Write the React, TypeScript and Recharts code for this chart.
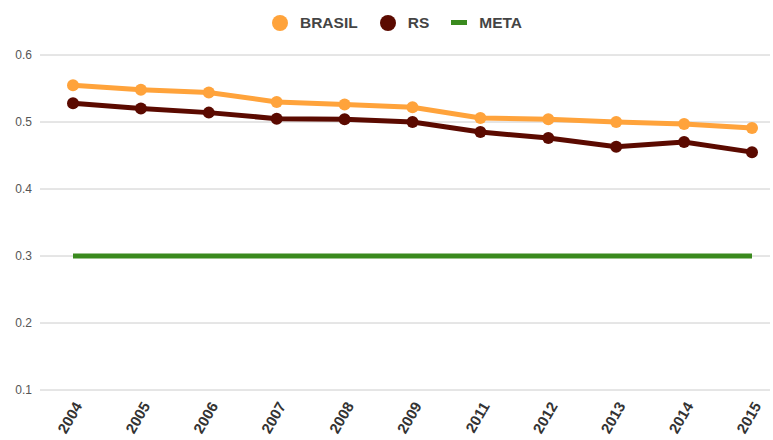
import { LineChart, Line, XAxis, YAxis, CartesianGrid, Legend } from 'recharts';

const YEARS = ['2004', '2005', '2006', '2007', '2008', '2009', '2011', '2012', '2013', '2014', '2015'];
const BRASIL = [0.555, 0.548, 0.544, 0.53, 0.526, 0.522, 0.506, 0.504, 0.5, 0.497, 0.491];
const RS = [0.528, 0.52, 0.514, 0.505, 0.504, 0.5, 0.485, 0.476, 0.463, 0.47, 0.455];
const META = [0.3, 0.3, 0.3, 0.3, 0.3, 0.3, 0.3, 0.3, 0.3, 0.3, 0.3];
const Y_TICKS = [0.1, 0.2, 0.3, 0.4, 0.5, 0.6];

const COLORS = {
    brasil: '#ffa33b',
    rs: '#5b0a00',
    meta: '#3a8a1e'
};

const FONT = '"Liberation Sans", Arial, sans-serif';

const data = YEARS.map((year, i) => ({
    year,
    BRASIL: BRASIL[i],
    RS: RS[i],
    META: META[i]
}));

const YearTick = (props: any) => {
    const { x, y, payload } = props;
    const ax = x + 5;
    const ay = y + 5;
    return (
        <text
            x={ax}
            y={ay}
            transform={`rotate(-60, ${ax}, ${ay})`}
            textAnchor="end"
            dominantBaseline="central"
            fontFamily={FONT}
            fontSize={15}
            fontWeight="bold"
            fill="#333"
        >
            {payload.value}
        </text>
    );
};

const LegendContent = () => {
    const items = [
        { name: 'BRASIL', color: COLORS.brasil, type: 'dot' },
        { name: 'RS', color: COLORS.rs, type: 'dot' },
        { name: 'META', color: COLORS.meta, type: 'line' }
    ];
    return (
        <div style={{ display: 'flex', justifyContent: 'center', alignItems: 'center', fontFamily: FONT, paddingLeft: 46 }}>
            {items.map(item => (
                <div key={item.name} style={{ display: 'flex', alignItems: 'center', marginRight: 22 }}>
                    <svg width={16} height={16} style={{ marginRight: 12 }}>
                        {item.type === 'dot' ? (
                            <circle cx={8} cy={8} r={8} fill={item.color} />
                        ) : (
                            <rect x={0} y={5} width={17} height={5} fill={item.color} />
                        )}
                    </svg>
                    <span style={{ fontSize: 15.5, fontWeight: 'bold', color: '#444' }}>{item.name}</span>
                </div>
            ))}
        </div>
    );
};

export default function App() {
    return (
        <div style={{ position: 'absolute', left: 0, top: 0, background: '#fff' }}>
            <LineChart width={773} height={440} data={data} margin={{ top: 20, right: 3, bottom: 0, left: 0 }}>
                <CartesianGrid vertical={false} stroke="#ccc" />
                <Legend verticalAlign="top" height={35} wrapperStyle={{ top: 14 }} content={<LegendContent />} />
                <XAxis
                    dataKey="year"
                    axisLine={false}
                    tickLine={false}
                    height={50}
                    padding={{ left: 33, right: 18 }}
                    interval={0}
                    tick={<YearTick />}
                />
                <YAxis
                    domain={[0.1, 0.6]}
                    ticks={Y_TICKS}
                    width={40}
                    axisLine={false}
                    tickLine={false}
                    tick={{ fontSize: 12, fill: '#555', fontFamily: FONT }}
                    tickFormatter={(v: number) => String(v)}
                />
                <Line
                    dataKey="META"
                    stroke={COLORS.meta}
                    strokeWidth={5}
                    dot={false}
                    isAnimationActive={false}
                />
                <Line
                    dataKey="RS"
                    stroke={COLORS.rs}
                    strokeWidth={5}
                    dot={{ r: 6, fill: COLORS.rs, stroke: COLORS.rs, strokeWidth: 0 }}
                    isAnimationActive={false}
                />
                <Line
                    dataKey="BRASIL"
                    stroke={COLORS.brasil}
                    strokeWidth={5}
                    dot={{ r: 6, fill: COLORS.brasil, stroke: COLORS.brasil, strokeWidth: 0 }}
                    isAnimationActive={false}
                />
            </LineChart>
        </div>
    );
}
